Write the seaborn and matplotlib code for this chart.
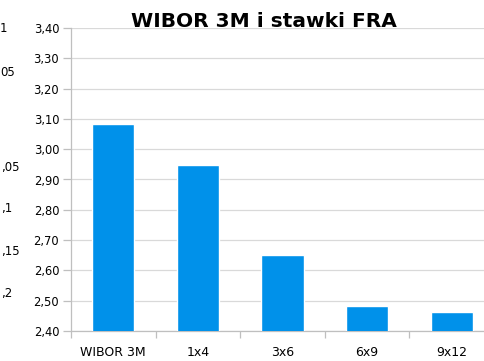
import matplotlib
matplotlib.use("Agg")
import matplotlib.pyplot as plt
import seaborn as sns
import pandas as pd
from matplotlib.ticker import FixedLocator, FuncFormatter

tenors = ["WIBOR 3M", "1x4", "3x6", "6x9", "9x12"]
rates = [3.082, 2.947, 2.652, 2.482, 2.462]
y_ticks = [2.40, 2.50, 2.60, 2.70, 2.80, 2.90, 3.00, 3.10, 3.20, 3.30, 3.40]
# visible fragments of a neighbouring chart's axis labels at the left edge
side_labels = ["1", "05", ",05", ",1", ",15", ",2"]
side_label_x_px = [0, 0, 1, 1, 1, 1]
side_label_y_px = [28, 73, 167, 208, 251, 293]

sns.set_style("white")
plt.rcParams["font.family"] = ["DejaVu Sans"]

W, H = 485, 361
fig = plt.figure(figsize=(W / 100, H / 100), dpi=100)
ax = fig.add_axes([71 / W, 30 / H, (494 - 71) / W, 303 / H])

df = pd.DataFrame({"tenor": tenors, "rate": rates})
sns.barplot(data=df, x="tenor", y="rate", color="#0091EA", saturation=1,
            width=0.5, errorbar=None, ax=ax, zorder=3)

ax.set_ylim(2.40, 3.40)
ax.set_xlim(-0.5, len(tenors) - 0.5)
ax.yaxis.set_major_locator(FixedLocator(y_ticks))
ax.yaxis.set_major_formatter(FuncFormatter(lambda v, p: f"{v:.2f}".replace(".", ",")))
ax.set_xlabel("")
ax.set_ylabel("")

ax.grid(axis="y", color="#d9d9d9", linewidth=0.9, zorder=0)
ax.set_axisbelow(True)
for s in ["top", "right"]:
    ax.spines[s].set_visible(False)
for s in ["left", "bottom"]:
    ax.spines[s].set_color("#bfbfbf")
    ax.spines[s].set_linewidth(0.9)

ax.tick_params(axis="y", which="major", length=6, width=0.9, color="#bfbfbf",
               pad=2.5, labelsize=8.3, labelcolor="black", left=True)
ax.tick_params(axis="x", which="major", length=0, pad=10.5, labelsize=9,
               labelcolor="black")
ax.set_xticks([i - 0.5 for i in range(len(tenors) + 1)], minor=True)
ax.tick_params(axis="x", which="minor", length=5, width=0.9, color="#bfbfbf",
               bottom=True)

fig.text(264 / W, 1 - 27.3 / H, "WIBOR 3M i stawki FRA", ha="center",
         va="baseline", fontsize=14.5, fontweight="bold", color="black")

for lab, xpx, ypx in zip(side_labels, side_label_x_px, side_label_y_px):
    fig.text(xpx / W, 1 - ypx / H, lab, ha="left", va="center",
             fontsize=8.5, color="black")

fig.savefig("out.png", dpi=100)
